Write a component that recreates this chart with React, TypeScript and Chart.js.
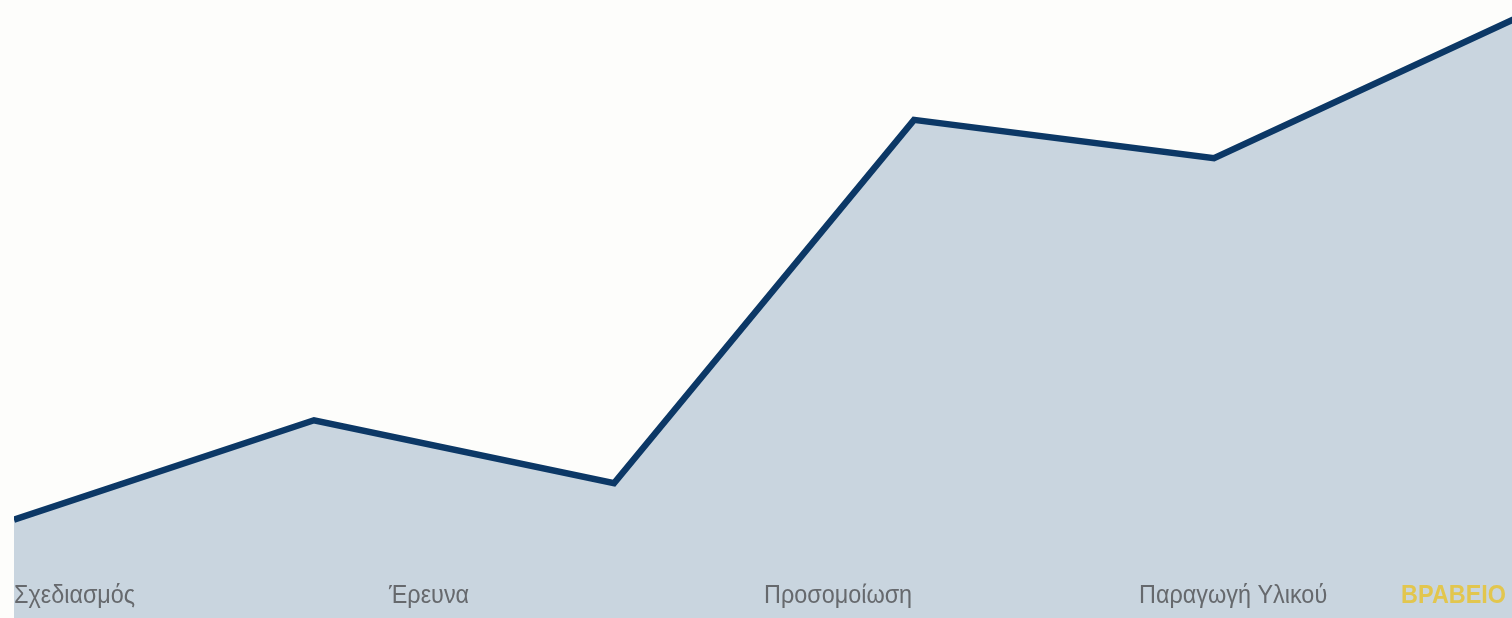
import React, { useEffect, useRef } from "react";
import { Chart, registerables } from "chart.js";

Chart.register(...registerables);

const stepX = [0, 1, 2, 3, 4, 5];
const progress = [15.9, 32.0, 21.8, 80.6, 74.4, 96.9];
const stageLabels = ["Σχεδιασμός", "Έρευνα", "Προσομοίωση", "Παραγωγή Υλικού", "ΒΡΑΒΕΙΟ"];
const stageAt = [0, 1.25, 2.5, 3.75, 5];

const labelPlugin = {
  id: "stageLabels",
  afterDatasetsDraw(chart: any) {
    const ctx = chart.ctx;
    const xs = chart.scales.x;
    const area = chart.chartArea;
    const sx = 0.9;
    ctx.save();
    ctx.textBaseline = "alphabetic";
    stageLabels.forEach((t, i) => {
      const last = i === stageLabels.length - 1;
      const px = xs.getPixelForValue(stageAt[i]);
      ctx.font = (last ? "bold " : "") + "26px 'Liberation Sans', Arial, sans-serif";
      ctx.fillStyle = last ? "#e2c64e" : "#66696d";
      ctx.textAlign = last ? "right" : "left";
      const x = last ? Math.min(px, area.right) - 8 : px;
      ctx.save();
      ctx.translate(x, area.bottom - 15);
      ctx.scale(sx, 1);
      ctx.fillText(t, 0, 0);
      ctx.restore();
    });
    ctx.restore();
  },
};

export default function App() {
  const ref = useRef<HTMLCanvasElement>(null);
  useEffect(() => {
    if (!ref.current) return;
    const chart = new Chart(ref.current, {
      type: "line",
      data: {
        datasets: [
          {
            data: stepX.map((x, i) => ({ x, y: progress[i] })),
            borderColor: "#0c3866",
            borderWidth: 6.5,
            backgroundColor: "#c9d5df",
            fill: "start",
            pointRadius: 0,
            tension: 0,
            borderJoinStyle: "miter",
          },
        ],
      },
      options: {
        animation: false,
        responsive: true,
        maintainAspectRatio: false,
        layout: { padding: { left: 14, right: 0, top: 0, bottom: 0 } },
        plugins: { legend: { display: false }, tooltip: { enabled: false } },
        scales: {
          x: { type: "linear", min: 0, max: 5, display: false },
          y: { min: 0, max: 100, display: false },
        },
      },
      plugins: [labelPlugin],
    });
    return () => chart.destroy();
  }, []);
  return (
    <div style={{ position: "fixed", left: 0, top: 0, width: 1512, height: 618, overflow: "hidden", background: "#fdfdfb" }}>
      <div style={{ position: "absolute", left: 0, top: 0, width: 1514, height: 618 }}>
        <canvas ref={ref} />
      </div>
    </div>
  );
}
